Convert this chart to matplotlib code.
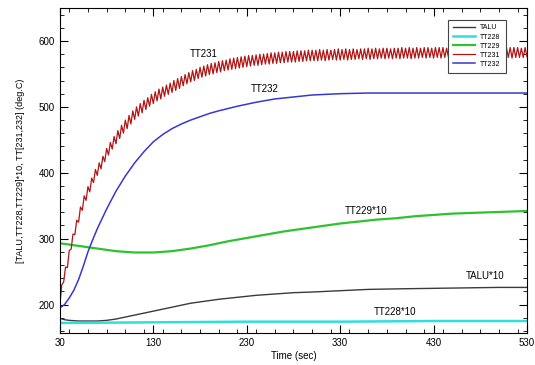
import numpy as np
import matplotlib
matplotlib.use("Agg")
import matplotlib.pyplot as plt
from matplotlib.ticker import MultipleLocator, FixedLocator

plt.rcParams['font.family'] = ['Liberation Sans', 'DejaVu Sans']

# TT231 : sampled every 2 s (oscillating)
t_231 = np.arange(30, 531, 2)
tt231 = [
    201, 230, 234, 257, 256, 282, 284, 307, 306, 328,
    325, 348, 343, 365, 358, 379, 371, 392, 385, 405,
    396, 415, 406, 425, 417, 437, 427, 446, 436, 455,
    444, 464, 452, 472, 460, 480, 467, 487, 474, 494,
    481, 500, 486, 505, 491, 510, 496, 514, 501, 519,
    505, 523, 509, 527, 512, 530, 516, 533, 519, 536,
    522, 540, 525, 543, 528, 546, 532, 549, 535, 552,
    538, 555, 540, 557, 543, 560, 545, 562, 547, 564,
    549, 566, 550, 567, 552, 569, 553, 570, 555, 571,
    556, 573, 557, 574, 558, 575, 559, 576, 560, 577,
    561, 578, 562, 578, 563, 579, 563, 580, 564, 580,
    565, 581, 565, 582, 566, 582, 566, 583, 567, 583,
    567, 584, 568, 584, 568, 584, 568, 585, 569, 585,
    569, 585, 570, 586, 570, 586, 570, 586, 570, 587,
    571, 586, 570, 587, 571, 586, 572, 587, 571, 588,
    571, 587, 572, 588, 571, 587, 572, 588, 572, 587,
    573, 588, 572, 588, 573, 589, 572, 588, 573, 589,
    573, 588, 574, 589, 573, 589, 574, 588, 573, 589,
    574, 589, 573, 590, 574, 589, 574, 590, 573, 589,
    574, 590, 574, 589, 575, 590, 574, 590, 575, 589,
    574, 590, 575, 590, 574, 590, 575, 589, 575, 590,
    574, 590, 575, 590, 575, 589, 574, 590, 575, 590,
    575, 589, 575, 590, 574, 590, 575, 590, 575, 589,
    575, 590, 574, 590, 575, 590, 575, 589, 575, 590,
    575, 590, 574, 590, 575, 590, 575, 589, 575, 590,
    576,
]

# TT232
t_232 = [30, 35, 40, 45, 50, 55, 60, 65, 70, 80, 90, 100, 110, 120, 130, 140, 150,
         160, 170, 180, 190, 200, 220, 240, 260, 280, 300, 330, 360, 400, 450, 500, 530]
tt232 = [195, 200, 210, 222, 238, 258, 280, 298, 315, 345, 372, 395, 415, 432, 447, 458, 467,
         474, 480, 485, 490, 494, 501, 507, 512, 515, 518, 520, 521, 521, 521, 521, 521]

# TT229*10
t_229 = [30, 50, 70, 90, 110, 130, 150, 170, 190, 210, 230, 250, 270, 290, 310, 330,
         350, 370, 390, 410, 430, 450, 470, 490, 510, 530]
tt229 = [293, 289, 285, 281, 279, 279, 281, 285, 290, 296, 301, 306, 311, 315, 319, 323,
         326, 329, 331, 334, 336, 338, 339, 340, 341, 342]

# TALU*10
t_alu = [30, 35, 40, 50, 60, 70, 80, 90, 100, 110, 120, 130, 140, 150, 160, 170, 180,
         190, 200, 220, 240, 260, 280, 300, 330, 360, 400, 450, 500, 530]
talu = [179, 177, 176, 175, 175, 175, 176, 178, 181, 184, 187, 190, 193, 196, 199, 202, 204,
        206, 208, 211, 214, 216, 218, 219, 221, 223, 224, 225, 226, 226]

# TT228*10
t_228 = [30, 130, 230, 330, 430, 530]
tt228 = [172, 173, 174, 174, 175, 175]

fig = plt.figure(figsize=(5.35, 3.65), dpi=100)
ax = fig.add_axes([0.112, 0.088, 0.873, 0.890])

ax.plot(t_alu, talu, color='#3a3a3a', lw=1.0, label='TALU')
ax.plot(t_228, tt228, color='#30dede', lw=1.8, label='TT228')
ax.plot(t_229, tt229, color='#2ec22e', lw=1.6, label='TT229')
ax.plot(t_231, tt231, color='#b01414', lw=0.9, label='TT231')
ax.plot(t_232, tt232, color='#3838d0', lw=1.1, label='TT232')

ax.set_xlim(30, 530)
ax.set_ylim(157, 650)
ax.xaxis.set_major_locator(FixedLocator([30, 130, 230, 330, 430, 530]))
ax.xaxis.set_minor_locator(MultipleLocator(20))
ax.yaxis.set_major_locator(FixedLocator([200, 300, 400, 500, 600]))
ax.yaxis.set_minor_locator(MultipleLocator(20))
ax.tick_params(which='both', direction='in', top=True, right=True, labelsize=7)
ax.tick_params(which='major', length=6)
ax.tick_params(which='minor', length=3)

ax.set_xlabel('Time (sec)', fontsize=7, labelpad=2)
ax.set_ylabel('[TALU,TT228,TT229]*10, TT[231,232] (deg.C)', fontsize=6.5, labelpad=10)

ax.text(184, 580, 'TT231', fontsize=7, ha='center', va='center')
ax.text(249, 527, 'TT232', fontsize=7, ha='center', va='center')
ax.text(358, 342, 'TT229*10', fontsize=7, ha='center', va='center')
ax.text(485, 244, 'TALU*10', fontsize=7, ha='center', va='center')
ax.text(389, 188, 'TT228*10', fontsize=7, ha='center', va='center')

leg = ax.legend(loc='upper right', bbox_to_anchor=(0.962, 0.975), fontsize=5,
                frameon=True, fancybox=False, framealpha=1, edgecolor='#444444',
                handlelength=3.2, labelspacing=0.3, borderpad=0.7, handletextpad=0.8)
leg.get_frame().set_linewidth(0.8)

fig.savefig('out.png', dpi=100)
